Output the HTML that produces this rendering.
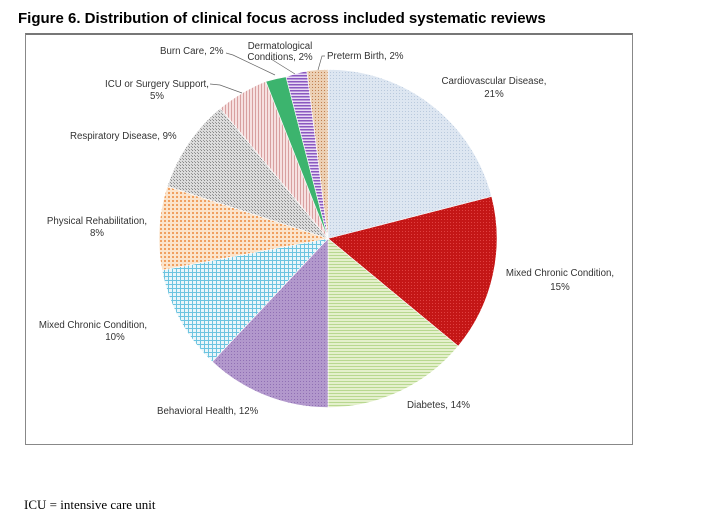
<!DOCTYPE html>
<html><head><meta charset="utf-8"><style>
html,body{margin:0;padding:0;background:#fff;width:708px;height:519px;overflow:hidden}
.t{position:absolute;left:18px;top:10px;font:bold 15px "Liberation Sans",sans-serif;color:#000;letter-spacing:0px}
.box{position:absolute;left:25px;top:33px;width:606px;height:409px;border:1px solid #888;border-top:2px solid #777}
.f{position:absolute;left:24px;top:497px;font:13px "Liberation Serif",serif;color:#000}
svg{position:absolute;left:0;top:0}
text{font-family:"Liberation Sans",sans-serif;font-size:9.7px;fill:#333}
</style></head><body>
<div class="t">Figure 6. Distribution of clinical focus across included systematic reviews</div>
<div class="box"></div>
<div class="f">ICU = intensive care unit</div>
<svg width="708" height="519" viewBox="0 0 708 519">
<defs>
<pattern id="p1" width="3" height="3" patternUnits="userSpaceOnUse"><rect width="3" height="3" fill="#dde6f1"/><rect width="1" height="1" fill="#b9c9dd"/></pattern>
<pattern id="p2" width="3" height="3" patternUnits="userSpaceOnUse"><rect width="3" height="3" fill="#c41616"/><rect width="1" height="1" fill="#e04040"/></pattern>
<pattern id="p3" width="3" height="3" patternUnits="userSpaceOnUse"><rect width="3" height="3" fill="#e4f0cc"/><rect width="3" height="1" fill="#b8d890"/></pattern>
<pattern id="p4" width="3" height="3" patternUnits="userSpaceOnUse"><rect width="3" height="3" fill="#b298cc"/><rect width="1" height="1" fill="#9070b4"/></pattern>
<pattern id="p5" width="4" height="4" patternUnits="userSpaceOnUse"><rect width="4" height="4" fill="#eaf6fa"/><rect width="4" height="1" fill="#6cc4e0"/><rect width="1" height="4" fill="#6cc4e0"/></pattern>
<pattern id="p6" width="4" height="4" patternUnits="userSpaceOnUse"><rect width="4" height="4" fill="#fbe4cc"/><rect width="2" height="2" fill="#f0a060"/></pattern>
<pattern id="p7" width="3" height="3" patternUnits="userSpaceOnUse"><rect width="3" height="3" fill="#dcdcdc"/><rect width="1" height="1" fill="#888"/><rect x="2" y="2" width="1" height="1" fill="#999"/></pattern>
<pattern id="p8" width="3" height="3" patternUnits="userSpaceOnUse"><rect width="3" height="3" fill="#f6e0e0"/><rect width="1" height="3" fill="#d8a0a0"/></pattern>
<pattern id="p10" width="3" height="3" patternUnits="userSpaceOnUse"><rect width="3" height="3" fill="#e8daf4"/><rect width="3" height="1.5" fill="#8a58c0"/></pattern>
<pattern id="p11" width="3" height="3" patternUnits="userSpaceOnUse"><rect width="3" height="3" fill="#ecd0b4"/><rect width="1" height="1" fill="#c08050"/></pattern>
</defs>
<g stroke="#fff" stroke-width="0.6">
<path d="M328,238.5 L328,69.5 A169,169 0 0 1 491.7,196.5 Z" fill="url(#p1)"/>
<path d="M328,238.5 L491.7,196.5 A169,169 0 0 1 458.2,346.2 Z" fill="url(#p2)"/>
<path d="M328,238.5 L458.2,346.2 A169,169 0 0 1 328,407.5 Z" fill="url(#p3)"/>
<path d="M328,238.5 L328,407.5 A169,169 0 0 1 212.3,361.7 Z" fill="url(#p4)"/>
<path d="M328,238.5 L212.3,361.7 A169,169 0 0 1 162,270.2 Z" fill="url(#p5)"/>
<path d="M328,238.5 L162,270.2 A169,169 0 0 1 167.3,186.3 Z" fill="url(#p6)"/>
<path d="M328,238.5 L167.3,186.3 A169,169 0 0 1 220.3,108.3 Z" fill="url(#p7)"/>
<path d="M328,238.5 L220.3,108.3 A169,169 0 0 1 265.8,81.4 Z" fill="url(#p8)"/>
<path d="M328,238.5 L265.8,81.4 A169,169 0 0 1 286,76.8 Z" fill="#3cb46e"/>
<path d="M328,238.5 L286,76.8 A169,169 0 0 1 306.8,70.8 Z" fill="url(#p10)"/>
<path d="M328,238.5 L306.8,70.8 A169,169 0 0 1 328,69.5 Z" fill="url(#p11)"/>
</g>
<g stroke="#666" stroke-width="0.7" fill="none">
<path d="M226,53 L233,55 L275,75"/>
<path d="M210,84 L220,85 L242,93"/>
<path d="M271,59 L295,74"/>
<path d="M325,56 L322,56 L318,70"/>
</g>
<text x="494" y="84" text-anchor="middle">Cardiovascular Disease,</text>
<text x="494" y="97" text-anchor="middle">21%</text>
<text x="560" y="276" text-anchor="middle">Mixed Chronic Condition,</text>
<text x="560" y="290" text-anchor="middle">15%</text>
<text x="407" y="408">Diabetes, 14%</text>
<text x="157" y="414">Behavioral Health, 12%</text>
<text x="93" y="328" text-anchor="middle">Mixed Chronic Condition,</text>
<text x="115" y="340" text-anchor="middle">10%</text>
<text x="97" y="224" text-anchor="middle">Physical Rehabilitation,</text>
<text x="97" y="236" text-anchor="middle">8%</text>
<text x="70" y="139">Respiratory Disease, 9%</text>
<text x="157" y="87" text-anchor="middle">ICU or Surgery Support,</text>
<text x="157" y="99" text-anchor="middle">5%</text>
<text x="160" y="54">Burn Care, 2%</text>
<text x="280" y="49" text-anchor="middle">Dermatological</text>
<text x="280" y="60" text-anchor="middle">Conditions, 2%</text>
<text x="327" y="59">Preterm Birth, 2%</text>
</svg>
</body></html>
